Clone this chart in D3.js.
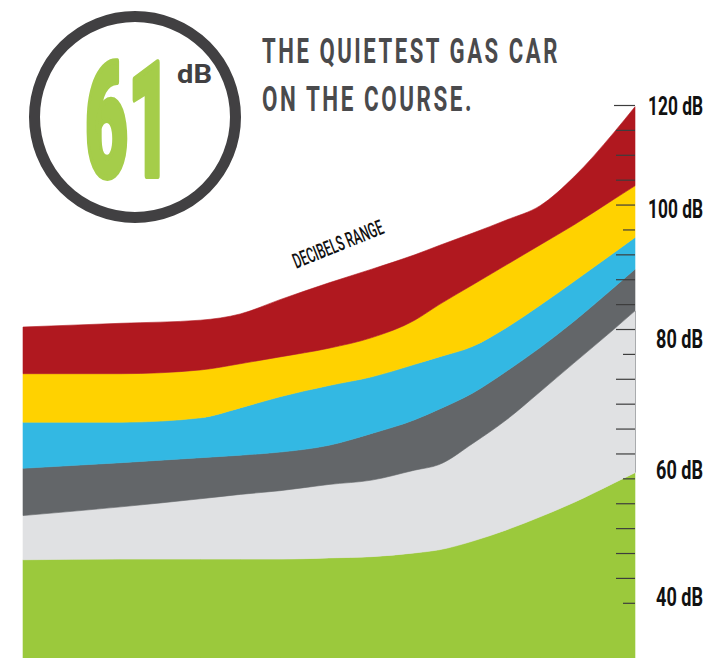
<!DOCTYPE html>
<html>
<head>
<meta charset="utf-8">
<script src="https://cdn.jsdelivr.net/npm/d3@7"></script>
<style>
  html, body { margin: 0; padding: 0; background: #fff; }
  svg { display: block; }
</style>
</head>
<body>
<div id="chart"></div>
<script>
// position along the course (0 = start, 100 = end)
var course = [0, 16, 29, 35.5, 42, 50, 57, 64, 68, 73.5, 79, 84.5, 90, 96.5, 100];

// upper edge of each decibel band, in dB
var greenTop  = [47.0, 47.1, 47.1, 47.1, 47.1, 47.3, 47.5, 48.1, 48.6, 50.0, 51.8, 53.9, 56.2, 59.3, 61.0];
var lightTop  = [54.1, 55.5, 56.8, 57.5, 58.1, 59.1, 59.8, 61.4, 62.3, 65.7, 69.5, 74.0, 78.6, 84.0, 87.0];
var darkTop   = [61.7, 62.6, 63.4, 63.8, 64.3, 65.4, 67.3, 69.5, 71.2, 73.8, 77.3, 81.1, 85.3, 90.7, 93.7];
var blueTop   = [69.1, 69.1, 69.8, 71.4, 73.2, 75.0, 76.4, 78.4, 79.6, 81.3, 84.3, 87.9, 91.7, 96.3, 98.8];
var yellowTop = [76.9, 76.9, 77.5, 78.5, 79.6, 81.0, 82.7, 85.5, 88.0, 91.2, 94.4, 97.6, 100.8, 104.9, 107.1];
var redTop    = [84.4, 85.0, 85.5, 86.5, 88.8, 91.5, 93.7, 96.0, 97.5, 99.5, 101.6, 103.9, 108.5, 115.6, 119.8];

var tickValues = d3.range(40, 121, 4);
var labelValues = [40, 60, 80, 100, 120];
var labelText = ["40 dB", "60 dB", "80 dB", "100 dB", "120 dB"];

var quietest = "61";
var titleLines = ["THE QUIETEST GAS CAR", "ON THE COURSE."];

var width = 712, height = 658;

var svg = d3.select("#chart")
  .append("svg")
    .attr("width", width)
    .attr("height", height);

var x = d3.scaleLinear().domain([0, 100]).range([23, 635]);
var y = d3.scaleLinear().domain([40, 120]).range([603.3, 105.5]);

// squeeze a text horizontally so it is w pixels wide (condensed look)
function squeeze(t, tx, ty, w, rot) {
  var n = t.node().getComputedTextLength();
  t.attr("transform", "translate(" + tx + "," + ty + ")" +
    (rot ? " rotate(" + rot + ")" : "") + " scale(" + (w / n) + ",1)");
}

var bands = [
  {lower: null,      upper: greenTop,  color: "#9bc93c"},
  {lower: greenTop,  upper: lightTop,  color: "#e0e1e3"},
  {lower: lightTop,  upper: darkTop,   color: "#636669"},
  {lower: darkTop,   upper: blueTop,   color: "#33b8e3"},
  {lower: blueTop,   upper: yellowTop, color: "#ffd200"},
  {lower: yellowTop, upper: redTop,    color: "#b0181f"}
];

var area = d3.area()
  .x(function(d) { return x(d.c); })
  .y0(function(d) { return d.lo == null ? height : y(d.lo); })
  .y1(function(d) { return y(d.hi); })
  .curve(d3.curveMonotoneX);

svg.append("g").selectAll("path")
  .data(bands)
  .enter()
  .append("path")
    .attr("d", function(b) {
      return area(course.map(function(c, i) {
        return {c: c, lo: b.lower ? b.lower[i] : null, hi: b.upper[i]};
      }));
    })
    .attr("fill", function(b) { return b.color; })
    .attr("stroke", function(b) { return b.color; })
    .attr("stroke-width", 0.6);

// thin edge on the right of the light band
var last = course.length - 1;
svg.append("line")
  .attr("x1", x(100) + 0.5).attr("x2", x(100) + 0.5)
  .attr("y1", y(lightTop[last])).attr("y2", y(greenTop[last]))
  .attr("stroke", "#a9abae")
  .attr("stroke-width", 1);

// ticks
svg.append("g").selectAll("line")
  .data(tickValues)
  .enter()
  .append("line")
    .attr("x1", function(d) {
      if (d == 120) return x(100) - 21;
      return d % 20 == 0 ? x(100) - 12 : x(100) - 19;
    })
    .attr("x2", x(100))
    .attr("y1", function(d) { return y(d); })
    .attr("y2", function(d) { return y(d); })
    .attr("stroke", "#3d3d3d")
    .attr("stroke-width", 1.2);

// labels sit a little above their tick lower down the scale
var labelShift = [-6, -9.3, -15.7, -20.8, 0.8];
svg.append("g").selectAll("text")
  .data(labelValues)
  .enter()
  .append("text")
    .attr("text-anchor", "end")
    .style("font-family", "Roboto, 'DejaVu Sans', sans-serif")
    .style("font-weight", "700")
    .style("font-size", "25px")
    .attr("fill", "#111")
    .text(function(d, i) { return labelText[i]; })
    .each(function(d, i) {
      squeeze(d3.select(this), 703, y(d) + labelShift[i] + 9, labelText[i].length == 6 ? 55 : 47);
    });

// band label
var bandLabel = svg.append("text")
  .attr("text-anchor", "middle")
  .attr("dy", "0.35em")
  .style("font-family", "Roboto, 'DejaVu Sans', sans-serif")
  .style("font-weight", "500")
  .style("font-size", "21px")
  .attr("fill", "#111")
  .text("DECIBELS RANGE");
squeeze(bandLabel, 338, 244, 96, -22);

// badge
svg.append("circle")
  .attr("cx", 135).attr("cy", 117).attr("r", 100.5)
  .attr("fill", "none")
  .attr("stroke", "#414042")
  .attr("stroke-width", 11);

var big = svg.append("text")
  .style("font-family", "Roboto, 'DejaVu Sans', sans-serif")
  .style("font-weight", "900")
  .style("font-size", "160px")
  .attr("fill", "#a5cd4a")
  .attr("stroke", "#a5cd4a")
  .attr("stroke-width", 6)
  .attr("stroke-linejoin", "round")
  .text(quietest);
squeeze(big, 85, 176, 86);

var unit = svg.append("text")
  .style("font-family", "Roboto, 'DejaVu Sans', sans-serif")
  .style("font-weight", "700")
  .style("font-size", "25px")
  .attr("fill", "#414042")
  .text("dB");
squeeze(unit, 177, 83, 35);

// title
svg.append("g").selectAll("text")
  .data(titleLines)
  .enter()
  .append("text")
    .style("font-family", "Roboto, 'DejaVu Sans', sans-serif")
    .style("font-weight", "700")
    .style("font-size", "35px")
    .style("letter-spacing", "4px")
    .attr("fill", "#4a4a4c")
    .text(function(d) { return d; })
    .each(function(d, i) {
      squeeze(d3.select(this), 262, 63 + i * 48, i == 0 ? 298 : 212);
    });
</script>
</body>
</html>
